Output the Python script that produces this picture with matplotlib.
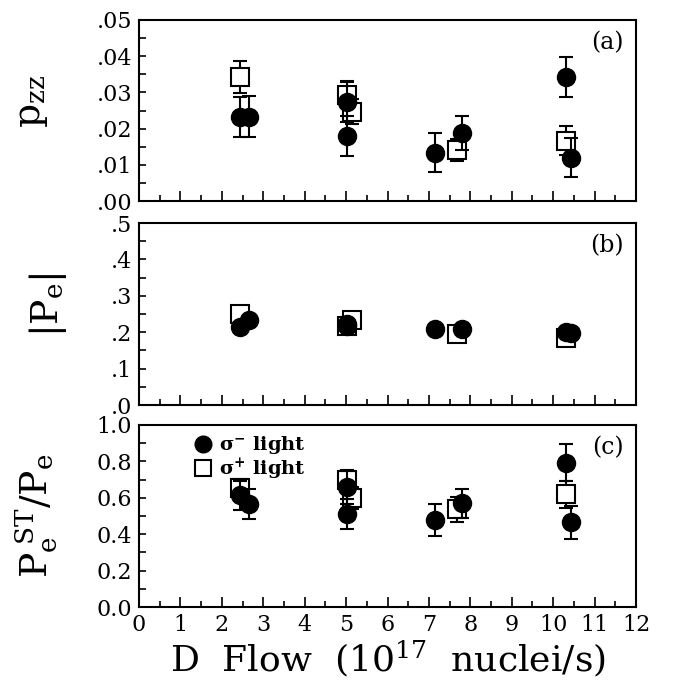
import matplotlib
matplotlib.use("Agg")
import matplotlib.pyplot as plt
from matplotlib.ticker import MultipleLocator, FuncFormatter
from matplotlib.lines import Line2D

plt.rcParams['font.family'] = ['DejaVu Serif']
plt.rcParams['mathtext.fontset'] = 'custom'
plt.rcParams['mathtext.rm'] = 'DejaVu Serif'
plt.rcParams['mathtext.it'] = 'DejaVu Serif:italic'
plt.rcParams['mathtext.bf'] = 'DejaVu Serif:bold'

# ---- data ----
x_minus = [2.45, 2.65, 5.03, 5.03, 7.14, 7.80, 10.31, 10.44]
x_plus = [2.43, 5.03, 5.15, 7.67, 10.31]

pzz_minus = [0.0233, 0.0233, 0.0274, 0.0180, 0.0133, 0.0187, 0.0343, 0.0120]
pzz_minus_err = [0.0055, 0.0057, 0.0057, 0.0056, 0.0054, 0.0047, 0.0055, 0.0053]
pzz_plus = [0.0342, 0.0293, 0.0247, 0.0141, 0.0167]
pzz_plus_err = [0.0044, 0.0035, 0.0035, 0.0030, 0.0040]

pe_minus = [0.213, 0.234, 0.222, 0.218, 0.209, 0.208, 0.201, 0.199]
pe_plus = [0.249, 0.217, 0.234, 0.194, 0.183]

ratio_minus = [0.615, 0.564, 0.658, 0.511, 0.478, 0.570, 0.793, 0.465]
ratio_minus_err = [0.080, 0.083, 0.090, 0.080, 0.090, 0.080, 0.100, 0.090]
ratio_plus = [0.652, 0.698, 0.597, 0.537, 0.619]
ratio_plus_err = [0.050, 0.055, 0.060, 0.070, 0.075]

xticks = list(range(0, 13))

W, H = 700, 682
fig = plt.figure(figsize=(W / 100, H / 100), dpi=100)

def frac(left, top, right, bottom):
    return [left / W, 1 - bottom / H, (right - left) / W, (bottom - top) / H]

ax_a = fig.add_axes(frac(139, 20, 636, 201))
ax_b = fig.add_axes(frac(139, 223, 636, 405))
ax_c = fig.add_axes(frac(139, 425, 636, 607))

ms = 13
cap = 5
tick_fs = 16

def style(ax, ylim, major, minor, fmt, labels_x):
    ax.set_xlim(0, 12)
    ax.set_ylim(*ylim)
    ax.xaxis.set_major_locator(MultipleLocator(1))
    ax.xaxis.set_minor_locator(MultipleLocator(0.5))
    ax.yaxis.set_major_locator(MultipleLocator(major))
    ax.yaxis.set_minor_locator(MultipleLocator(minor))
    ax.yaxis.set_major_formatter(FuncFormatter(fmt))
    ax.tick_params(which='both', direction='in', top=False, right=False,
                   labelsize=tick_fs, width=1.2, color='black')
    ax.tick_params(which='major', length=7, pad=5)
    ax.tick_params(which='minor', length=4)
    ax.tick_params(axis='y', which='both', length=5)
    if not labels_x:
        ax.tick_params(axis='x', labelbottom=False)
    for s in ax.spines.values():
        s.set_linewidth(1.5)

def fmt_a(v, pos):
    return ('%.2f' % v).lstrip('0')

def fmt_b(v, pos):
    return ('%.1f' % v).lstrip('0')

def fmt_c(v, pos):
    return '%.1f' % v

eb = dict(ecolor='black', elinewidth=1.5, capsize=cap, capthick=1.5)

# panel a
ax_a.errorbar(x_plus, pzz_plus, yerr=pzz_plus_err, fmt='s', ms=ms, mfc='white',
              mec='black', mew=1.5, zorder=3, **eb)
ax_a.errorbar(x_minus, pzz_minus, yerr=pzz_minus_err, fmt='o', ms=ms, mfc='black',
              mec='black', zorder=4, **eb)
style(ax_a, (0, 0.05), 0.01, 0.005, fmt_a, False)
ax_a.text(0.975, 0.94, '(a)', transform=ax_a.transAxes, ha='right', va='top',
          fontsize=17)
ax_a.set_ylabel(r'$\mathregular{p_{zz}}$', fontsize=27)
ax_a.yaxis.set_label_coords(-0.18, 0.55)

# panel b
ax_b.plot(x_plus, pe_plus, 's', ms=ms, mfc='white', mec='black', mew=1.5, zorder=3)
ax_b.plot(x_minus, pe_minus, 'o', ms=ms, mfc='black', mec='black', zorder=4)
style(ax_b, (0, 0.5), 0.1, 0.05, fmt_b, False)
ax_b.text(0.975, 0.94, '(b)', transform=ax_b.transAxes, ha='right', va='top',
          fontsize=17)
ax_b.set_ylabel(r'$\mathregular{|P_{e}|}$', fontsize=27)
ax_b.yaxis.set_label_coords(-0.14, 0.55)

# panel c
ax_c.errorbar(x_plus, ratio_plus, yerr=ratio_plus_err, fmt='s', ms=ms, mfc='white',
              mec='black', mew=1.5, zorder=3, **eb)
ax_c.errorbar(x_minus, ratio_minus, yerr=ratio_minus_err, fmt='o', ms=ms, mfc='black',
              mec='black', zorder=4, **eb)
style(ax_c, (0, 1.0), 0.2, 0.1, fmt_c, True)
ax_c.set_xticks(xticks)
ax_c.set_xticklabels([str(t) for t in xticks], fontsize=tick_fs)
ax_c.text(0.975, 0.94, '(c)', transform=ax_c.transAxes, ha='right', va='top',
          fontsize=17)
ax_c.set_ylabel(r'$\mathregular{P_{e}^{\ ST}/P_{e}}$', fontsize=27)
ax_c.yaxis.set_label_coords(-0.16, 0.5)
ax_c.set_xlabel(r'D  Flow  ($\mathregular{10^{17}}$  nuclei/s)', fontsize=26, labelpad=2)

handles = [Line2D([], [], ls='none', marker='o', ms=12, mfc='black', mec='black'),
           Line2D([], [], ls='none', marker='s', ms=12, mfc='white', mec='black', mew=1.5)]
ax_c.legend(handles, [r'$\mathbf{\sigma^{-}}$ light', r'$\mathbf{\sigma^{+}}$ light'],
            loc='upper left', bbox_to_anchor=(0.075, 1.045), frameon=False,
            handletextpad=0.3, labelspacing=0.0, handlelength=1.0,
            prop={'family': 'DejaVu Serif', 'weight': 'bold', 'size': 14})

fig.savefig('out.png', dpi=100)
